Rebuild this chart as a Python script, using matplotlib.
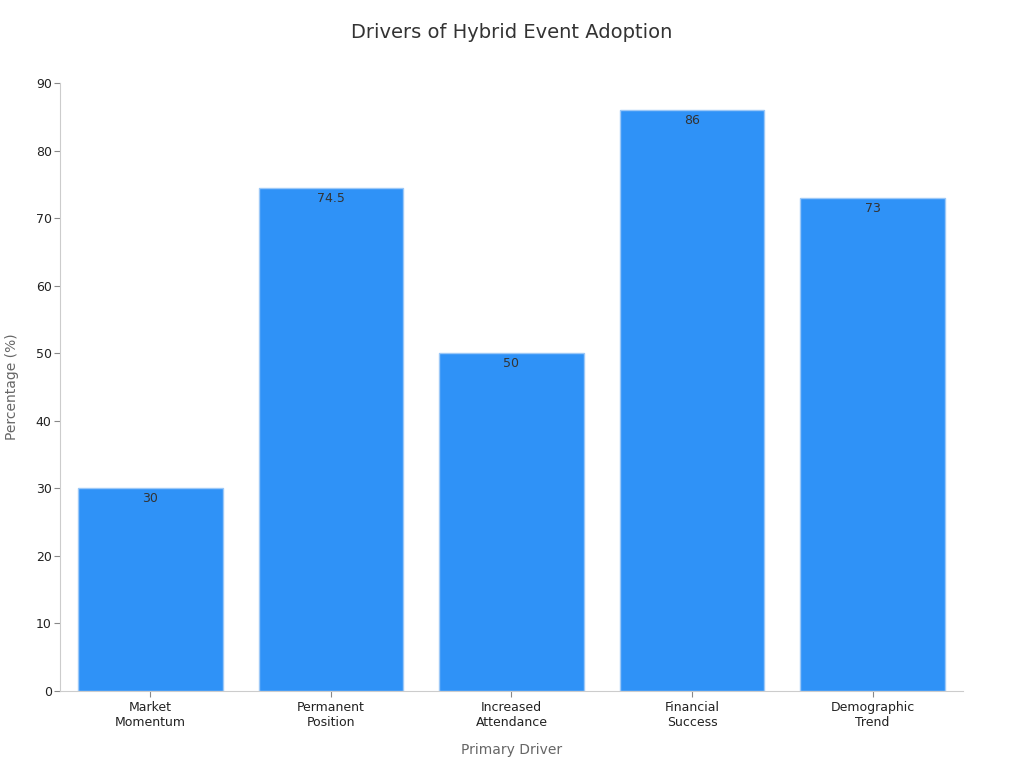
import matplotlib
matplotlib.use('Agg')
import matplotlib.pyplot as plt

categories = ['Market\nMomentum', 'Permanent\nPosition', 'Increased\nAttendance',
              'Financial\nSuccess', 'Demographic\nTrend']
values = [30, 74.5, 50, 86, 73]
value_labels = ['30', '74.5', '50', '86', '73']

plt.rcParams['font.family'] = ['DejaVu Sans']

fig = plt.figure(figsize=(10.24, 7.68), dpi=100)
ax = fig.add_axes([0.0586, 0.1003, 0.8818, 0.7917])

bars = ax.bar(range(len(values)), values, width=0.8, color='#2f92f7',
              edgecolor='#9cc8f7', linewidth=1)

for bar, lab in zip(bars, value_labels):
    ax.text(bar.get_x() + bar.get_width() / 2, bar.get_height() - 0.6, lab,
            ha='center', va='top', fontsize=9, color='#333333')

ax.set_xlim(-0.5, 4.5)
ax.set_ylim(0, 90)
ax.set_yticks(range(0, 91, 10))
ax.set_xticks(range(len(categories)))
ax.set_xticklabels(categories, fontsize=9, color='#222222')
ax.tick_params(axis='y', labelsize=9, labelcolor='#222222', color='#888888',
               length=4, pad=2)
ax.tick_params(axis='x', color='#888888', length=4, pad=3)

for side in ['top', 'right']:
    ax.spines[side].set_visible(False)
for side in ['left', 'bottom']:
    ax.spines[side].set_color('#cccccc')

ax.set_xlabel('Primary Driver', fontsize=10, color='#666666', labelpad=10)
ax.set_ylabel('Percentage (%)', fontsize=10, color='#666666', labelpad=12)
fig.suptitle('Drivers of Hybrid Event Adoption', fontsize=14, color='#333333', y=0.97)

fig.savefig('out.png', dpi=100)
